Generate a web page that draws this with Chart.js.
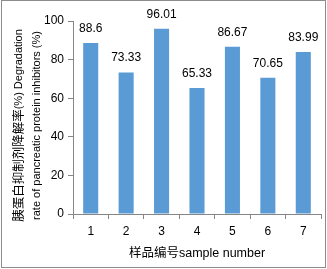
<!DOCTYPE html>
<html><head><meta charset="utf-8">
<script src="https://cdn.jsdelivr.net/npm/chart.js@4"></script>
<style>
html,body{margin:0;padding:0;background:#fff;}
#wrap{position:relative;width:327px;height:269px;}
#frame{position:absolute;left:1px;top:0;width:323px;height:266px;border:1px solid #8c8c8c;pointer-events:none;}
canvas{position:absolute;left:0;top:0;}
</style></head>
<body>
<div id="wrap"><canvas id="c" width="327" height="269"></canvas><div id="frame"></div></div>
<script>
const categories = ["1","2","3","4","5","6","7"];
const values = [88.6, 73.33, 96.01, 65.33, 86.67, 70.65, 83.99];
const valueLabels = ["88.6","73.33","96.01","65.33","86.67","70.65","83.99"];
const yTitleLine1 = [["胰蛋白抑制剂降解率", "cjk"], ["(%) Degradation", "lat"]];
const yTitleLine2 = [["rate of pancreatic protein inhibitors (%)", "lat"]];
const xTitle = "样品编号sample number";
const LAT = "'Liberation Sans', Arial, sans-serif";
const FONT = "'Liberation Sans', 'Noto Sans CJK SC', sans-serif";
const CJKFONT = "12.5px 'Noto Sans CJK SC', sans-serif";
const LATFONT = "11px 'Liberation Sans', Arial, sans-serif";

function drawRuns(ctx, runs, cx, cy) {
  let total = 0;
  runs.forEach(r => { ctx.font = r[1] === 'cjk' ? CJKFONT : LATFONT; total += ctx.measureText(r[0]).width; });
  ctx.save();
  ctx.translate(cx, cy);
  ctx.rotate(-Math.PI / 2);
  ctx.textAlign = 'left';
  ctx.textBaseline = 'middle';
  ctx.fillStyle = '#000';
  let x = -total / 2;
  runs.forEach(r => {
    ctx.font = r[1] === 'cjk' ? CJKFONT : LATFONT;
    ctx.fillText(r[0], x, 0);
    x += ctx.measureText(r[0]).width;
  });
  ctx.restore();
}

const labelPlugin = {
  id: 'vlabels',
  afterDatasetsDraw(chart) {
    const ctx = chart.ctx;
    const meta = chart.getDatasetMeta(0);
    ctx.save();
    ctx.font = "12px " + LAT;
    ctx.fillStyle = "#000";
    ctx.textAlign = "center";
    ctx.textBaseline = "alphabetic";
    meta.data.forEach((bar, i) => {
      ctx.fillText(valueLabels[i], bar.x, bar.y - 11);
    });
    ctx.restore();
    const midY = (chart.chartArea.top + chart.chartArea.bottom) / 2 + 8;
    drawRuns(ctx, yTitleLine1, 18.5, midY);
    drawRuns(ctx, yTitleLine2, 36.5, midY);
  }
};

new Chart(document.getElementById('c'), {
  type: 'bar',
  data: {
    labels: categories,
    datasets: [{
      data: values,
      backgroundColor: '#5B9BD5',
      barPercentage: 0.85,
      categoryPercentage: 0.5
    }]
  },
  options: {
    responsive: false,
    animation: false,
    events: [],
    layout: { padding: { left: 0, right: 6, top: 21, bottom: 0 } },
    plugins: { legend: { display: false }, tooltip: { enabled: false } },
    scales: {
      x: {
        grid: { display: true, drawOnChartArea: false, offset: true, color: '#868686', tickLength: 5, lineWidth: 1 },
        border: { display: true, color: '#868686' },
        ticks: { color: '#000', font: { family: LAT, size: 12 }, padding: 5 },
        title: { display: true, text: xTitle, color: '#000', font: { family: FONT, size: 12.5 }, padding: { top: 4, bottom: 8 } },
        afterFit(s) { s.height = 55; }
      },
      y: {
        min: 0, max: 100,
        ticks: { stepSize: 20, color: '#000', font: { family: LAT, size: 12 }, padding: 4 },
        grid: { display: true, drawOnChartArea: false, color: '#868686', tickLength: 5 },
        border: { display: true, color: '#868686' },
        title: { display: false },
        afterFit(s) { s.width = 73; }
      }
    }
  },
  plugins: [labelPlugin]
});
</script>
</body></html>
